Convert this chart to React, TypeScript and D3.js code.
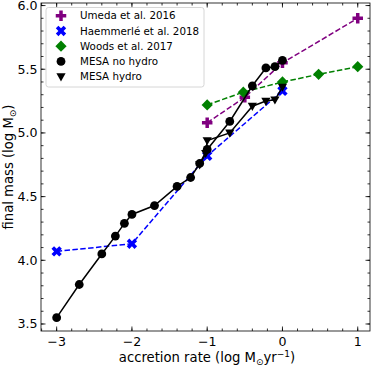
import React from "react";
import * as d3 from "d3";

// log accretion rate (Msun/yr) vs log final mass (Msun)
const umedaX = [-1, -0.5, 0, 1];
const umedaY = [5.08, 5.28, 5.55, 5.9];

const haemX = [-3, -2, -1, 0];
const haemY = [4.07, 4.13, 4.82, 5.33];

const woodsX = [-1, -0.52, 0, 0.48, 1];
const woodsY = [5.22, 5.32, 5.4, 5.46, 5.52];

const noHydroX = [-3, -2.7, -2.4, -2.22, -2.1, -2.0, -1.7, -1.4, -1.22, -1.1, -1.0, -0.7, -0.4, -0.22, -0.1, 0];
const noHydroY = [3.55, 3.81, 4.05, 4.19, 4.29, 4.36, 4.43, 4.58, 4.65, 4.76, 4.87, 5.09, 5.37, 5.51, 5.52, 5.57];

const hydroX = [-1.1, -1.02, -1.0, -0.7, -0.4, -0.22, -0.1, 0];
const hydroY = [4.75, 4.84, 4.94, 5.0, 5.21, 5.25, 5.26, 5.36];

const xTicks = [-3, -2, -1, 0, 1];
const yTicks = [3.5, 4.0, 4.5, 5.0, 5.5, 6.0];

const W = 374, H = 366;
const left = 41, right = 370, top = 3, bottom = 331;

const x = d3.scaleLinear().domain([-3.208, 1.163]).range([left, right]);
const y = d3.scaleLinear().domain([3.445, 6.02]).range([bottom, top]);

const font = "DejaVu Sans, sans-serif";

// filled plus / x like matplotlib "P" and "X"
const plusPath = (s: number) => {
  const a = s / 2, b = s / 6;
  return `M${-b},${-a}H${b}V${-b}H${a}V${b}H${b}V${a}H${-b}V${b}H${-a}V${-b}H${-b}Z`;
};

const Marker = ({ kind, color, cx, cy }: { kind: string; color: string; cx: number; cy: number }) => {
  if (kind === "o") return <circle cx={cx} cy={cy} r={4.4} fill={color} />;
  if (kind === "v")
    return <path d="M-4.6,-3.4L4.6,-3.4L0,4.8Z" transform={`translate(${cx},${cy})`} fill={color} />;
  if (kind === "D")
    return <path d="M0,-5.6L5.6,0L0,5.6L-5.6,0Z" transform={`translate(${cx},${cy})`} fill={color} />;
  if (kind === "P") return <path d={plusPath(10.5)} transform={`translate(${cx},${cy})`} fill={color} />;
  if (kind === "X")
    return <path d={plusPath(11)} transform={`translate(${cx},${cy}) rotate(45)`} fill={color} />;
  return null;
};

const series = [
  { label: "Umeda et al. 2016", xs: umedaX, ys: umedaY, color: "purple", marker: "P", dash: "5.5,2.4" },
  { label: "Haemmerlé et al. 2018", xs: haemX, ys: haemY, color: "blue", marker: "X", dash: "5.5,2.4" },
  { label: "Woods et al. 2017", xs: woodsX, ys: woodsY, color: "green", marker: "D", dash: "5.5,2.4" },
  { label: "MESA no hydro", xs: noHydroX, ys: noHydroY, color: "black", marker: "o", dash: "" },
  { label: "MESA hydro", xs: hydroX, ys: hydroY, color: "black", marker: "v", dash: "" },
];

const App = () => {
  const line = d3.line<[number, number]>().x(d => x(d[0])).y(d => y(d[1]));
  const xMinor = d3.range(-3.2, 1.17, 0.2).map(v => +v.toFixed(2));
  const yMinor = d3.range(3.5, 6.01, 0.1).map(v => +v.toFixed(2));

  return (
    <svg width={W} height={H} style={{ position: "absolute", left: 0, top: 0 }} fontFamily={font}>
      <rect width={W} height={H} fill="white" />
      {series.map(s => (
        <g key={s.label}>
          <path
            d={line(s.xs.map((v, i) => [v, s.ys[i]] as [number, number])) || ""}
            fill="none"
            stroke={s.color}
            strokeWidth={1.5}
            strokeDasharray={s.dash || undefined}
          />
          {s.xs.map((v, i) => (
            <Marker key={i} kind={s.marker} color={s.color} cx={x(v)} cy={y(s.ys[i])} />
          ))}
        </g>
      ))}

      {/* ticks, inward, all four sides */}
      <g stroke="black" strokeWidth={0.8}>
        {xMinor.map(v => (
          <g key={"xm" + v}>
            <line x1={x(v)} x2={x(v)} y1={bottom} y2={bottom - 2.5} />
            <line x1={x(v)} x2={x(v)} y1={top} y2={top + 2.5} />
          </g>
        ))}
        {xTicks.map(v => (
          <g key={"xM" + v}>
            <line x1={x(v)} x2={x(v)} y1={bottom} y2={bottom - 4.5} />
            <line x1={x(v)} x2={x(v)} y1={top} y2={top + 4.5} />
          </g>
        ))}
        {yMinor.map(v => (
          <g key={"ym" + v}>
            <line x1={left} x2={left + 2.5} y1={y(v)} y2={y(v)} />
            <line x1={right} x2={right - 2.5} y1={y(v)} y2={y(v)} />
          </g>
        ))}
        {yTicks.map(v => (
          <g key={"yM" + v}>
            <line x1={left} x2={left + 4.5} y1={y(v)} y2={y(v)} />
            <line x1={right} x2={right - 4.5} y1={y(v)} y2={y(v)} />
          </g>
        ))}
      </g>
      <rect x={left} y={top} width={right - left} height={bottom - top} fill="none" stroke="black" strokeWidth={0.8} />

      {xTicks.map(v => (
        <text key={"xl" + v} x={x(v)} y={bottom + 15} textAnchor="middle" fontSize={12.6}>
          {d3.format("d")(v).replace("-", "\u2212")}
        </text>
      ))}
      {yTicks.map(v => (
        <text key={"yl" + v} x={left - 3.5} y={y(v) + 4.5} textAnchor="end" fontSize={12.6}>
          {v.toFixed(1)}
        </text>
      ))}

      <text x={207} y={362} textAnchor="middle" fontSize={13.2}>
        accretion rate (log M
        <tspan fontSize={9} dy={2.5}>⊙</tspan>
        <tspan dy={-2.5}>yr</tspan>
        <tspan fontSize={9} dy={-5}>−1</tspan>
        <tspan dy={5}>)</tspan>
      </text>
      <text transform={`translate(13,${(top + bottom) / 2}) rotate(-90)`} textAnchor="middle" fontSize={13.2}>
        final mass (log M
        <tspan fontSize={9} dy={2.5}>⊙</tspan>
        <tspan dy={-2.5}>)</tspan>
      </text>

      {/* legend */}
      <g>
        <rect x={46} y={7.5} width={158} height={79.5} rx={2.5} fill="white" fillOpacity={0.8} stroke="#cccccc" strokeWidth={0.8} />
        {series.map((s, i) => (
          <g key={"lg" + s.label}>
            <Marker kind={s.marker} color={s.color} cx={61} cy={15.7 + i * 15.25} />
            <text x={80} y={15.7 + i * 15.25 + 3.7} fontSize={10.3}>
              {s.label}
            </text>
          </g>
        ))}
      </g>
    </svg>
  );
};

export default App;
